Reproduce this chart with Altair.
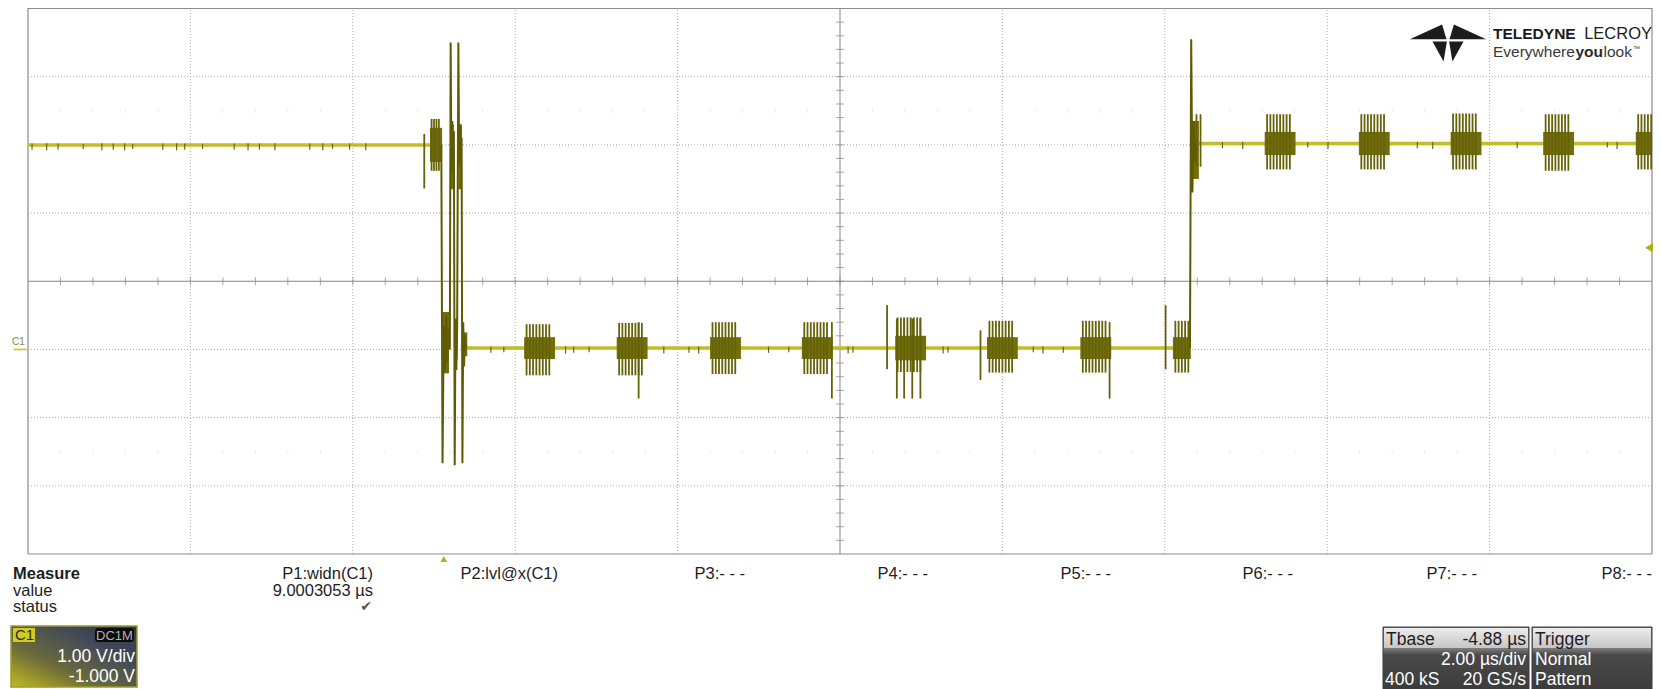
import altair as alt
import pandas as pd

FONT = "Liberation Sans"

# ---------------- screen settings (read from the scope) ----------------
T_LEFT, T_RIGHT = -5.12, 14.88          # µs  (2 µs/div, delay -4.88 µs)
V_BOT, V_TOP = -3.0, 5.0                # V   (1 V/div, offset -1 V)
T_CENTER, V_CENTER = 4.88, 1.0
grid_t = [-3.12, -1.12, 0.88, 2.88, 6.88, 8.88, 10.88, 12.88]
grid_v = [-2.0, -1.0, 0.0, 2.0, 3.0, 4.0]
faint_v = [3.5, -1.5]
trig_level_v = 1.49
ground_v = 0.0
trig_t = 0.0

# ---------------- waveform: steady levels ----------------
seg_id = ["pre", "pre", "low", "low", "high", "high"]
seg_t = [-5.12, -0.02, 0.27, 9.20, 9.25, 14.88]
seg_v = [3.00, 3.00, 0.02, 0.02, 3.02, 3.02]

# ---------------- waveform: edges / ringing ----------------
fall_t = [-0.03, -0.015, 0.000, 0.015, 0.030, 0.045, 0.060, 0.075, 0.085, 0.095,
          0.105, 0.115, 0.125, 0.135, 0.145, 0.155, 0.165, 0.180, 0.190, 0.200,
          0.210, 0.220, 0.230, 0.240, 0.250, 0.260, 0.275]
fall_v = [3.00, -1.67, 0.35, -0.30, 0.50, -0.20, 0.30, 0.00, 4.50, 2.60,
          3.35, 2.75, 3.20, -1.70, 0.45, -0.30, 0.30, 4.50, 2.70, 3.30,
          2.80, 3.10, -1.67, 0.40, -0.25, 0.20, 0.02]
rise_t = [9.19, 9.205, 9.22, 9.235, 9.25, 9.265]
rise_v = [0.02, 4.55, 2.30, 3.35, 2.75, 3.02]

# dense ringing envelopes
band_t0 = [-0.17, -0.02, 0.085, 0.135, 0.18, 0.23, 9.21]
band_t1 = [-0.02, 0.065, 0.125, 0.170, 0.225, 0.29, 9.30]
band_v0 = [2.75, -0.35, 2.35, -0.15, 2.35, -0.10, 2.50]
band_v1 = [3.25, 0.55, 3.30, 0.30, 3.30, 0.25, 3.35]

# ---------------- data bursts ----------------
burst_t = [0.99, 2.13, 3.28, 4.41, 5.56, 6.69, 7.84, 8.98, 10.11, 11.27, 12.40, 13.54, 14.68]
burst_level = [0.02, 0.02, 0.02, 0.02, 0.02, 0.02, 0.02, 0.02, 3.02, 3.02, 3.02, 3.02, 3.02]
burst_up = [0.35, 0.37, 0.38, 0.38, 0.45, 0.40, 0.40, 0.40, 0.43, 0.43, 0.44, 0.43, 0.43]
burst_dn = [0.40, 0.40, 0.38, 0.38, 0.35, 0.36, 0.36, 0.36, 0.38, 0.38, 0.38, 0.40, 0.38]
burst_core = [0.16, 0.16, 0.16, 0.16, 0.18, 0.16, 0.16, 0.16, 0.17, 0.17, 0.17, 0.17, 0.17]
burst_len = [0.38, 0.38, 0.38, 0.38, 0.38, 0.38, 0.38, 0.22, 0.38, 0.38, 0.38, 0.38, 0.20]
spike_offsets = [0.03, 0.07, 0.11, 0.15, 0.19, 0.23, 0.27, 0.31]

# isolated spikes
extra_t = [-0.24, -0.15, -0.12, -0.09, -0.06, 2.40, 4.78, 5.46, 5.58, 5.67, 5.77, 5.87,
           6.61, 8.20, 8.89, 9.27, 9.32]
extra_top = [3.16, 3.38, 3.38, 3.38, 3.38, 0.40, 0.40, 0.65, 0.45, 0.45, 0.45, 0.45,
             0.28, 0.40, 0.65, 3.45, 3.45]
extra_bot = [2.36, 2.62, 2.62, 2.62, 2.62, -0.72, -0.72, -0.29, -0.72, -0.72, -0.72, -0.72,
             -0.45, -0.72, -0.29, 2.68, 2.68]

# small glitches on the flat levels
glitch_t = [-5.07, -4.89, -4.75, -4.44, -4.21, -4.07, -3.93, -3.83, -3.46, -3.29, -3.19,
            -2.97, -2.58, -2.41, -2.27, -2.08, -1.65, -1.49, -1.37, -1.16, -0.96,
            0.58, 0.74, 1.50, 1.60, 1.79, 2.71, 3.02, 3.14, 4.00, 4.25, 4.98, 5.04,
            6.15, 6.21, 7.26, 7.38, 7.63, 9.59, 9.84, 10.64, 10.89, 11.99, 12.18,
            13.22, 14.33, 14.45]
glitch_v = [3.00] * 21 + [0.02] * 17 + [3.02] * 9
glitch_d = [0.07, 0.08, 0.07, 0.06, 0.08, 0.07, 0.08, 0.06, 0.07, 0.08, 0.07,
            0.06, 0.07, 0.08, 0.07, 0.08, 0.07, 0.08, 0.06, 0.07, 0.08,
            0.07, 0.06, 0.08, 0.07, 0.06, 0.08, 0.07, 0.08, 0.07, 0.06, 0.08, 0.07,
            0.08, 0.07, 0.06, 0.08, 0.07, 0.07, 0.08, 0.06, 0.08, 0.07, 0.08,
            0.07, 0.06, 0.08]

# ---------------- measurement panel texts ----------------
p_labels = ["P1:widn(C1)", "P2:lvl@x(C1)", "P3:- - -", "P4:- - -",
            "P5:- - -", "P6:- - -", "P7:- - -", "P8:- - -"]
p1_value = "9.0003053 µs"

# ====================================================================
XS = alt.Scale(domain=[T_LEFT, T_RIGHT], range=[20, 1644], nice=False, zero=False)
YS = alt.Scale(domain=[V_BOT, V_TOP], range=[546, 0.5], nice=False, zero=False)


def X(f):
    return alt.X(f, type="quantitative", scale=XS, axis=None)


def Y(f):
    return alt.Y(f, type="quantitative", scale=YS, axis=None)


ONE = pd.DataFrame({"k": [0]})
layers = []

# grid
vg = pd.DataFrame({"t": grid_t, "v0": V_BOT, "v1": V_TOP})
hg = pd.DataFrame({"v": grid_v, "t0": T_LEFT, "t1": T_RIGHT})
layers.append(alt.Chart(vg).mark_rule(color="#a9a9a9", strokeDash=[1, 2], strokeWidth=1)
              .encode(x=X("t"), y=Y("v0"), y2="v1"))
layers.append(alt.Chart(hg).mark_rule(color="#a9a9a9", strokeDash=[1, 2], strokeWidth=1)
              .encode(y=Y("v"), x=X("t0"), x2="t1"))

minor_t = [round(T_LEFT + 0.4 * i, 3) for i in range(1, 50)]
minor_v = [round(V_BOT + 0.2 * i, 3) for i in range(1, 40)]
faint = pd.DataFrame([{"t": t, "v": v} for v in faint_v for t in minor_t])
layers.append(alt.Chart(faint).mark_tick(orient="vertical", size=4, thickness=1, color="#e6e6e6")
              .encode(x=X("t"), y=Y("v")))

# center axes
layers.append(alt.Chart(pd.DataFrame({"t": [T_CENTER], "v0": [V_BOT], "v1": [V_TOP]}))
              .mark_rule(color="#858585", strokeWidth=1).encode(x=X("t"), y=Y("v0"), y2="v1"))
layers.append(alt.Chart(pd.DataFrame({"v": [V_CENTER], "t0": [T_LEFT], "t1": [T_RIGHT]}))
              .mark_rule(color="#858585", strokeWidth=1).encode(y=Y("v"), x=X("t0"), x2="t1"))
layers.append(alt.Chart(pd.DataFrame({"t": minor_t, "v": V_CENTER}))
              .mark_tick(orient="vertical", size=8, thickness=1, color="#858585")
              .encode(x=X("t"), y=Y("v")))
layers.append(alt.Chart(pd.DataFrame({"v": minor_v, "t": T_CENTER}))
              .mark_tick(orient="horizontal", size=8, thickness=1, color="#858585")
              .encode(x=X("t"), y=Y("v")))

# border
layers.append(alt.Chart(pd.DataFrame({"t0": [T_LEFT], "t1": [T_RIGHT], "v0": [V_BOT], "v1": [V_TOP]}))
              .mark_rect(fill=None, fillOpacity=0, stroke="#8c8c8c", strokeWidth=1.2)
              .encode(x=X("t0"), x2="t1", y=Y("v0"), y2="v1"))

# waveform levels
lv = pd.DataFrame({"seg": seg_id, "t": seg_t, "v": seg_v, "o": range(len(seg_t))})
layers.append(alt.Chart(lv).mark_line(color="#c2be2a", strokeWidth=3.5, strokeCap="butt")
              .encode(x=X("t"), y=Y("v"), detail="seg:N", order="o:Q"))

# glitches
gl = pd.DataFrame({"t": glitch_t, "v0": [v - d for v, d in zip(glitch_v, glitch_d)],
                   "v1": [v + d * 0.3 for v, d in zip(glitch_v, glitch_d)]})
layers.append(alt.Chart(gl).mark_rule(color="#6a6610", strokeWidth=1.2)
              .encode(x=X("t"), y=Y("v0"), y2="v1"))

# burst cores and ringing envelopes
cores = pd.DataFrame({
    "t0": list(band_t0) + burst_t,
    "t1": list(band_t1) + [min(t + L, T_RIGHT) for t, L in zip(burst_t, burst_len)],
    "v0": list(band_v0) + [l - c for l, c in zip(burst_level, burst_core)],
    "v1": list(band_v1) + [l + c for l, c in zip(burst_level, burst_core)],
})
layers.append(alt.Chart(cores).mark_rect(color="#726e0a")
              .encode(x=X("t0"), x2="t1", y=Y("v0"), y2="v1"))

# burst spikes
rows = []
for t, lvl, up, dn, L in zip(burst_t, burst_level, burst_up, burst_dn, burst_len):
    for off in spike_offsets:
        if off <= L and t + off <= T_RIGHT:
            rows.append({"t": t + off, "v0": lvl - dn, "v1": lvl + up})
for t, a, b in zip(extra_t, extra_top, extra_bot):
    rows.append({"t": t, "v0": b, "v1": a})
sp = pd.DataFrame(rows)
layers.append(alt.Chart(sp).mark_rule(color="#66620a", strokeWidth=1.8)
              .encode(x=X("t"), y=Y("v0"), y2="v1"))

# ringing polylines
rg = pd.DataFrame({"seg": ["fall"] * len(fall_t) + ["rise"] * len(rise_t),
                   "t": fall_t + rise_t, "v": fall_v + rise_v,
                   "o": list(range(len(fall_t) + len(rise_t)))})
layers.append(alt.Chart(rg).mark_line(color="#5f5b04", strokeWidth=2)
              .encode(x=X("t"), y=Y("v"), detail="seg:N", order="o:Q"))

# trigger position marker and trigger level arrow
layers.append(alt.Chart(pd.DataFrame({"t": [trig_t]}))
              .mark_point(shape="triangle-up", filled=True, opacity=1, color="#b2ae28", size=45)
              .encode(x=X("t"), y=alt.value(551)))
layers.append(alt.Chart(pd.DataFrame({"t": [T_RIGHT], "v": [trig_level_v]}))
              .mark_point(shape="triangle-left", filled=True, opacity=1, color="#a6b10c", size=80,
                          xOffset=-3)
              .encode(x=X("t"), y=Y("v")))

# C1 ground marker
layers.append(alt.Chart(pd.DataFrame({"v": [ground_v]}))
              .mark_text(text="C1", align="left", baseline="alphabetic", dy=-4, fontSize=10,
                         font=FONT, color="#8c8a3a")
              .encode(x=alt.value(4), y=Y("v")))
layers.append(alt.Chart(pd.DataFrame({"v": [ground_v]}))
              .mark_tick(orient="horizontal", size=13, thickness=2, color="#b8b226")
              .encode(x=alt.value(12), y=Y("v")))


def label(txt, x, y, size=18, color="#1e1e1e", align="left", weight="normal", font=FONT,
          baseline="alphabetic"):
    return (alt.Chart(ONE)
            .mark_text(align=align, baseline=baseline, fontSize=size, font=font,
                       fontWeight=weight, color=color)
            .encode(x=alt.value(x), y=alt.value(y), text=alt.value(txt)))


def box(x0, x1, y0, y1, **kw):
    return (alt.Chart(ONE).mark_rect(**kw)
            .encode(x=alt.value(x0), x2=alt.value(x1), y=alt.value(y0), y2=alt.value(y1)))


# logo
logo_path = ("M-1.03,-0.10 L-0.16,-0.50 L-0.04,-0.10 Z "
             "M1.03,-0.10 L0.16,-0.50 L0.04,-0.10 Z "
             "M-0.42,-0.04 L-0.03,-0.04 L-0.12,0.50 Z "
             "M0.42,-0.04 L0.03,-0.04 L0.12,0.50 Z")
layers.append(alt.Chart(ONE).mark_point(shape=logo_path, filled=True, opacity=1,
                                        color="#1c1c1c", size=5476, strokeWidth=0)
              .encode(x=alt.value(1440), y=alt.value(35)))
layers.append(label("TELEDYNE", 1485, 31, size=15.5, weight="bold", color="#1c1c1c"))
layers.append(label("LECROY", 1644, 31, size=16.5, align="right", color="#1c1c1c"))
layers.append(label("Everywhere", 1485, 49, size=15.5, color="#3a3a3a"))
layers.append(label("you", 1567.5, 49, size=15.5, weight="bold", color="#2a2a2a"))
layers.append(label("look", 1595.5, 49, size=15.5, color="#3a3a3a"))
layers.append(label("™", 1625, 43, size=7, color="#3a3a3a"))

# measurement table
layers.append(label("Measure", 5, 571, size=16.5, weight="bold"))
layers.append(label("value", 5, 587.5, size=16.5))
layers.append(label("status", 5, 604, size=16.5))
p_right = [365, 550, 737, 920, 1103, 1285, 1469, 1644]
for txt, xr in zip(p_labels, p_right):
    layers.append(label(txt, xr, 571, size=16.5, align="right"))
layers.append(label(p1_value, 365, 587.5, size=16.5, align="right"))
layers.append(label("✔", 364, 603, size=14, align="right", color="#555555", font="DejaVu Sans"))

# C1 channel box
grad_c1 = alt.Gradient(gradient="linear", x1=0, y1=1, x2=1, y2=0,
                       stops=[alt.GradientStop(color="#c2bc1e", offset=0),
                              alt.GradientStop(color="#6a6a3a", offset=0.35),
                              alt.GradientStop(color="#40495a", offset=0.7),
                              alt.GradientStop(color="#2f3848", offset=1)])
layers.append(box(3, 129, 618, 679, color=grad_c1, stroke="#9d9a2c", strokeWidth=1.5))
layers.append(box(5, 27, 620, 634, color="#d2cc22"))
layers.append(label("C1", 7, 632, size=15, color="#2a2a2a"))
layers.append(box(87, 126, 620, 634, color="#0b0b0b", cornerRadius=3))
layers.append(label("DC1M", 106.5, 632, size=13, align="center", color="#b5b5b5"))
layers.append(label("1.00 V/div", 127, 654, size=17.5, align="right", color="#ffffff"))
layers.append(label("-1.000 V", 127, 674, size=17.5, align="right", color="#ffffff"))

# timebase / trigger boxes
grad_dark = alt.Gradient(gradient="linear", x1=0, y1=0, x2=0, y2=1,
                         stops=[alt.GradientStop(color="#6e6e6e", offset=0),
                                alt.GradientStop(color="#7a7a7a", offset=0.35),
                                alt.GradientStop(color="#4a4a4a", offset=0.45),
                                alt.GradientStop(color="#3c3c3c", offset=1)])
grad_light = alt.Gradient(gradient="linear", x1=0, y1=0, x2=0, y2=1,
                          stops=[alt.GradientStop(color="#ececec", offset=0),
                                 alt.GradientStop(color="#c6c6c6", offset=1)])
for x0, x1 in [(1375, 1521), (1524, 1644)]:
    layers.append(box(x0, x1, 619, 681, color=grad_dark, stroke="#3a3a3a", strokeWidth=1))
    layers.append(box(x0 + 1, x1 - 1, 620, 640, color=grad_light))
layers.append(label("Tbase", 1378, 637, size=17.5))
layers.append(label("-4.88 µs", 1518, 637, size=17.5, align="right"))
layers.append(label("2.00 µs/div", 1518, 657, size=17.5, align="right", color="#ffffff"))
layers.append(label("400 kS", 1377, 677, size=17.5, color="#ffffff"))
layers.append(label("20 GS/s", 1518, 677, size=17.5, align="right", color="#ffffff"))
layers.append(label("Trigger", 1527, 637, size=17.5))
layers.append(label("Normal", 1527, 657, size=17.5, color="#ffffff"))
layers.append(label("Pattern", 1527, 677, size=17.5, color="#ffffff"))

chart = (alt.layer(*layers)
         .properties(width=1645, height=681, autosize="none", padding=0, background="white")
         .configure_view(stroke=None))

chart.save("out.html", embed_options={"renderer": "svg", "actions": False})
